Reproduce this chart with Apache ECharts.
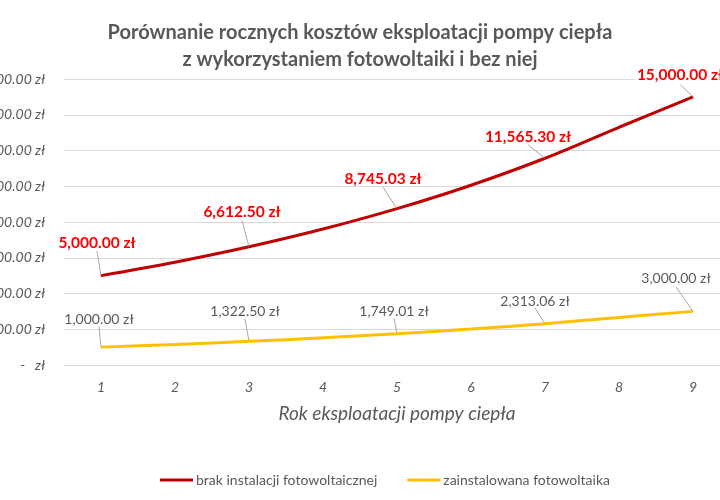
<!DOCTYPE html>
<html>
<head>
<meta charset="utf-8">
<script src="https://cdn.jsdelivr.net/npm/echarts@6/dist/echarts.min.js"></script>
<style>
html,body{margin:0;padding:0;background:#fff;}
#main{width:720px;height:500px;}
</style>
</head>
<body>
<div id="main"></div>
<script>
var years = ['1', '2', '3', '4', '5', '6', '7', '8', '9'];
var bezPV = [5000, 5750, 6612.50, 7604.38, 8745.03, 10056.78, 11565.30, 13300.10, 15000];
var zPV = [1000, 1150, 1322.50, 1520.88, 1749.01, 2011.36, 2313.06, 2660.02, 3000];
var seriesNames = ['brak instalacji fotowoltaicznej', 'zainstalowana fotowoltaika'];

// przesuniecia etykiet (dx, dy) wzgledem pozycji 'top'
var redShift = [[-4, -18], null, [-7, -20], null, [-14, -15], null, [-17, -7], null, [-13, -7]];
var yellowShift = [[-2, -14], null, [-4, -16], null, [-3, -9], null, [-10, -9], null, [-17, -19]];

function zl(v) {
    if (v === 0) return '-   zł';
    return v.toLocaleString('en-US', {minimumFractionDigits: 2, maximumFractionDigits: 2}) + ' zł';
}

function toData(arr) {
    return arr.map(function (v, i) {
        var lab = {show: i % 2 === 0};
        // ostatnia etykieta przykrywa linie siatki
        if (i === arr.length - 1) lab.backgroundColor = '#fff';
        return {value: v, label: lab, labelLine: {show: i % 2 === 0}};
    });
}

var chart = echarts.init(document.getElementById('main'));
var option = {
    animation: false,
    title: {
        text: 'Porównanie rocznych kosztów eksploatacji pompy ciepła\nz wykorzystaniem fotowoltaiki i bez niej',
        left: 'center',
        top: 14,
        textStyle: {
            fontFamily: 'Lato',
            fontSize: 20,
            fontWeight: 'bold',
            color: '#595959',
            lineHeight: 27
        }
    },
    legend: {
        left: 155,
        top: 468,
        itemWidth: 33,
        itemHeight: 3,
        itemGap: 30,
        icon: 'rect',
        textStyle: {fontFamily: 'Lato', fontSize: 14, color: '#595959', padding: [0, 0, 0, -2]},
        data: seriesNames
    },
    grid: {
        left: 64,
        top: 79,
        width: 666,
        height: 286,
        containLabel: false,
        outerBoundsMode: 'none'
    },
    xAxis: {
        type: 'category',
        data: years,
        boundaryGap: true,
        name: 'Rok eksploatacji pompy ciepła',
        nameLocation: 'middle',
        nameGap: 39,
        nameTextStyle: {fontFamily: 'Lato', fontSize: 19, fontStyle: 'italic', color: '#595959'},
        axisLine: {lineStyle: {color: '#d9d9d9', width: 1}},
        axisTick: {show: false},
        axisLabel: {fontFamily: 'Lato', fontSize: 14, fontStyle: 'italic', color: '#595959', margin: 15}
    },
    yAxis: {
        type: 'value',
        min: 0,
        max: 16000,
        interval: 2000,
        axisLine: {show: false},
        axisTick: {show: false},
        splitLine: {lineStyle: {color: '#d9d9d9', width: 1}},
        axisLabel: {
            fontFamily: 'Lato', fontSize: 14, fontStyle: 'italic', color: '#595959', margin: 19,
            formatter: zl
        }
    },
    series: [
        {
            name: seriesNames[0],
            type: 'line',
            smooth: 0.35,
            data: toData(bezPV),
            symbol: 'circle',
            symbolSize: 1,
            showAllSymbol: true,
            color: '#c00000',
            lineStyle: {color: '#c00000', width: 3},
            itemStyle: {color: '#c00000'},
            label: {
                position: 'top',
                formatter: function (p) { return zl(p.value); },
                fontFamily: 'Lato',
                fontSize: 15.5,
                fontWeight: 'bold',
                color: '#ff0000',
                padding: [1, 2]
            },
            labelLine: {lineStyle: {color: '#a6a6a6', width: 1}},
            labelLayout: function (p) {
                var s = redShift[p.dataIndex];
                return s ? {dx: s[0], dy: s[1]} : {};
            }
        },
        {
            name: seriesNames[1],
            type: 'line',
            smooth: 0.35,
            data: toData(zPV),
            symbol: 'circle',
            symbolSize: 1,
            showAllSymbol: true,
            color: '#ffc000',
            lineStyle: {color: '#ffc000', width: 3},
            itemStyle: {color: '#ffc000'},
            label: {
                position: 'top',
                formatter: function (p) { return zl(p.value); },
                fontFamily: 'Lato',
                fontSize: 14,
                color: '#595959',
                padding: [1, 2]
            },
            labelLine: {lineStyle: {color: '#a6a6a6', width: 1}},
            labelLayout: function (p) {
                var s = yellowShift[p.dataIndex];
                return s ? {dx: s[0], dy: s[1]} : {};
            }
        }
    ]
};
chart.setOption(option);
</script>
</body>
</html>
